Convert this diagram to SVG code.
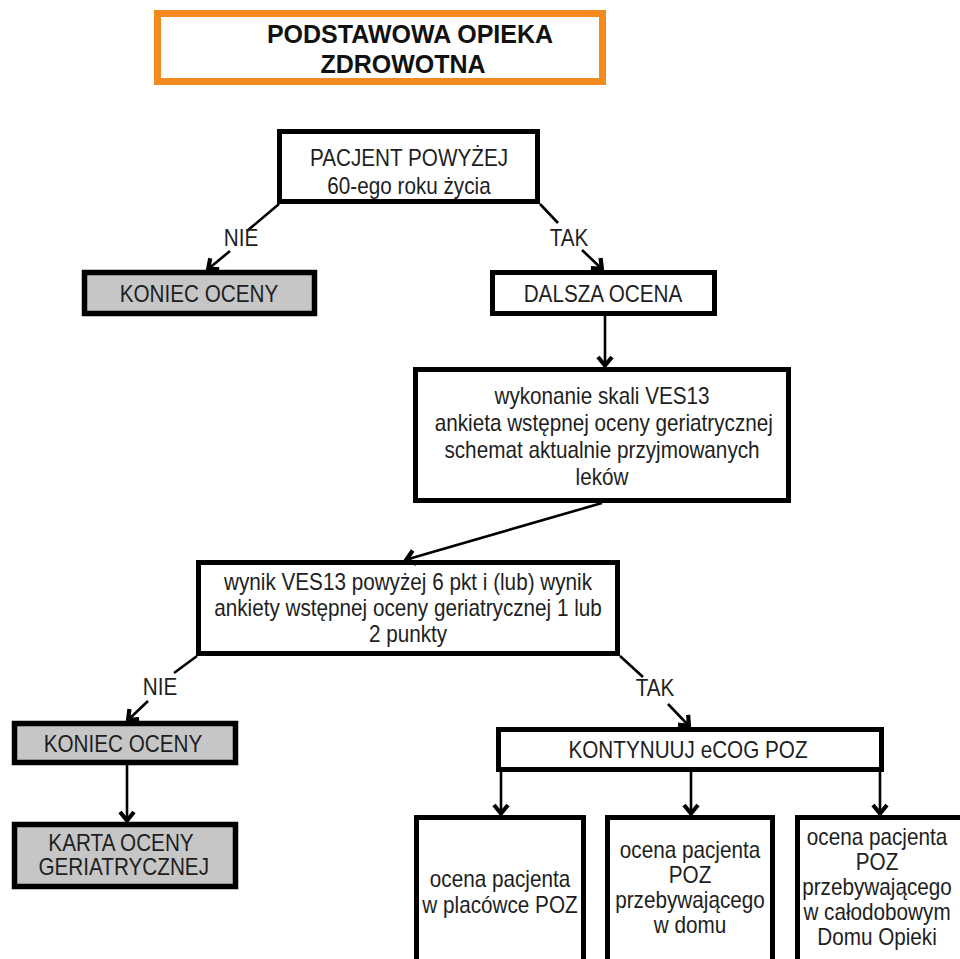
<svg xmlns="http://www.w3.org/2000/svg" width="960" height="959" viewBox="0 0 960 959">
<defs>
<style>
.box{fill:#ffffff;stroke:#000;stroke-width:5}
.gray{fill:#c6c6c6;stroke:#000;stroke-width:5.5}
.title{fill:#ffffff;stroke:#f28a1e;stroke-width:7}
text{font-family:"Liberation Sans",Arial,sans-serif;fill:#1e1e1e;text-anchor:middle}
.t{font-size:23px}
.tb{font-size:25px;font-weight:bold;fill:#111}
.ln{stroke:#000;stroke-width:2.6;fill:none}
</style>
<marker id="ah" viewBox="-14 -10 16 20" markerWidth="16" markerHeight="20" refX="0" refY="0" orient="auto" markerUnits="userSpaceOnUse">
<path d="M-10,-7 L-1.5,0 L-10,7" fill="none" stroke="#000" stroke-width="4.2"/>
</marker>
</defs>
<rect width="960" height="959" fill="#ffffff"/>

<g id="title">
<rect class="title" x="157.5" y="13.5" width="445" height="68"/>
<text class="tb" x="410" y="43">PODSTAWOWA OPIEKA</text>
<text class="tb" x="403" y="73">ZDROWOTNA</text>
</g>

<g id="n-pacjent">
<rect class="box" x="279.5" y="131.5" width="258" height="70"/>
<g transform="translate(409 0) scale(0.9 1)">
<text class="t" x="0" y="166">PACJENT POWYŻEJ</text>
<text class="t" x="0" y="194">60-ego roku życia</text>
</g>
</g>

<g id="n-koniec1">
<rect class="gray" x="84.5" y="272.5" width="230" height="41"/>
<g transform="translate(199 0) scale(0.9 1)">
<text class="t" x="0" y="302">KONIEC OCENY</text>
</g>
</g>

<g id="n-dalsza">
<rect class="box" x="492.5" y="272.5" width="222" height="41"/>
<g transform="translate(603 0) scale(0.9 1)">
<text class="t" x="0" y="302">DALSZA OCENA</text>
</g>
</g>

<g id="n-ves">
<rect class="box" x="415.5" y="369.5" width="373" height="131"/>
<g transform="translate(602 0) scale(0.9 1)">
<text class="t" x="0" y="404">wykonanie skali VES13</text>
<text class="t" x="2" y="431">ankieta wstępnej oceny geriatrycznej</text>
<text class="t" x="0" y="458">schemat aktualnie przyjmowanych</text>
<text class="t" x="0" y="485">leków</text>
</g>
</g>

<g id="n-wynik">
<rect class="box" x="198.5" y="562.5" width="419" height="91"/>
<g transform="translate(408 0) scale(0.9 1)">
<text class="t" x="0" y="590">wynik VES13 powyżej 6 pkt i (lub) wynik</text>
<text class="t" x="0" y="616">ankiety wstępnej oceny geriatrycznej 1 lub</text>
<text class="t" x="0" y="642">2 punkty</text>
</g>
</g>

<g id="n-koniec2">
<rect class="gray" x="14.5" y="723.5" width="221" height="39"/>
<g transform="translate(123 0) scale(0.9 1)">
<text class="t" x="0" y="752">KONIEC OCENY</text>
</g>
</g>

<g id="n-karta">
<rect class="gray" x="14.5" y="824.5" width="221" height="62"/>
<g transform="translate(121 0) scale(0.9 1)">
<text class="t" x="0" y="851">KARTA OCENY</text>
<text class="t" x="3" y="875">GERIATRYCZNEJ</text>
</g>
</g>

<g id="n-kontynuuj">
<rect class="box" x="498.5" y="729.5" width="383" height="40"/>
<g transform="translate(688 0) scale(0.9 1)">
<text class="t" x="0" y="758">KONTYNUUJ eCOG POZ</text>
</g>
</g>

<g id="n-placowka">
<rect class="box" x="416.5" y="817.5" width="167" height="160"/>
<g transform="translate(500 0) scale(0.9 1)">
<text class="t" x="0" y="887">ocena pacjenta</text>
<text class="t" x="0" y="913">w placówce POZ</text>
</g>
</g>

<g id="n-dom">
<rect class="box" x="607.5" y="817.5" width="165" height="160"/>
<g transform="translate(690 0) scale(0.9 1)">
<text class="t" x="0" y="858">ocena pacjenta</text>
<text class="t" x="0" y="883">POZ</text>
<text class="t" x="0" y="908">przebywającego</text>
<text class="t" x="0" y="933">w domu</text>
</g>
</g>

<g id="n-domopieki">
<rect class="box" x="797.5" y="817.5" width="180" height="160"/>
<g transform="translate(877 0) scale(0.9 1)">
<text class="t" x="0" y="845">ocena pacjenta</text>
<text class="t" x="0" y="870">POZ</text>
<text class="t" x="0" y="895">przebywającego</text>
<text class="t" x="0" y="920">w całodobowym</text>
<text class="t" x="0" y="945">Domu Opieki</text>
</g>
</g>

<g id="connectors">
<line class="ln" x1="279" y1="204" x2="247" y2="231"/>
<line class="ln" x1="230" y1="251" x2="207" y2="270" marker-end="url(#ah)"/>
<g transform="translate(241 0) scale(0.9 1)"><text class="t" x="0" y="246">NIE</text></g>

<line class="ln" x1="540" y1="204" x2="558" y2="223"/>
<line class="ln" x1="582" y1="250" x2="603" y2="270" marker-end="url(#ah)"/>
<g transform="translate(569 0) scale(0.9 1)"><text class="t" x="0" y="246">TAK</text></g>

<line class="ln" x1="605" y1="316" x2="605" y2="367" marker-end="url(#ah)"/>

<line class="ln" x1="602" y1="503" x2="405" y2="560" marker-end="url(#ah)"/>

<line class="ln" x1="197" y1="656" x2="174" y2="673"/>
<line class="ln" x1="148" y1="701" x2="127" y2="721" marker-end="url(#ah)"/>
<g transform="translate(160 0) scale(0.9 1)"><text class="t" x="0" y="695">NIE</text></g>

<line class="ln" x1="620" y1="656" x2="643" y2="677"/>
<line class="ln" x1="668" y1="704" x2="690" y2="727" marker-end="url(#ah)"/>
<g transform="translate(655 0) scale(0.9 1)"><text class="t" x="0" y="696">TAK</text></g>

<line class="ln" x1="127" y1="765" x2="127" y2="822" marker-end="url(#ah)"/>

<line class="ln" x1="501" y1="772" x2="501" y2="815" marker-end="url(#ah)"/>
<line class="ln" x1="691" y1="772" x2="691" y2="815" marker-end="url(#ah)"/>
<line class="ln" x1="880" y1="772" x2="880" y2="815" marker-end="url(#ah)"/>
</g>
</svg>
